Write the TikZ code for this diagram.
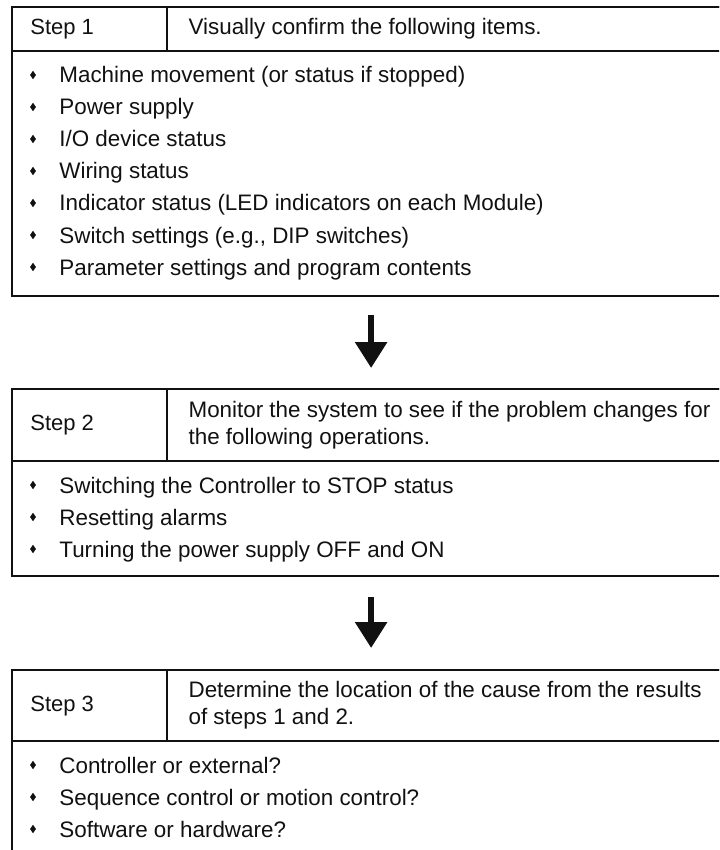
\documentclass[tikz,border=0pt]{standalone}
\usepackage{fontspec}
\setmainfont{Liberation Sans}
\usepackage{tikz}
\usetikzlibrary{shapes.geometric, arrows.meta, positioning}
\definecolor{inkblack}{HTML}{111111}
\tikzstyle{frame} = [rectangle, draw=inkblack, line width=1.1pt, inner sep=0pt, anchor=north west]
\tikzstyle{steplabel} = [anchor=west, inner sep=0pt, text=inkblack, font=\fontsize{11pt}{13.5pt}\selectfont]
\tikzstyle{headtext} = [anchor=west, inner sep=0pt, align=left, text=inkblack, font=\fontsize{11.2pt}{13.5pt}\selectfont]
\tikzstyle{itemtext} = [anchor=base west, inner sep=0pt, text=inkblack, font=\fontsize{11.2pt}{13pt}\selectfont]
\tikzstyle{bullet} = [diamond, fill=inkblack, inner sep=0pt, minimum width=3.1pt, minimum height=4.4pt]
\tikzstyle{bigarrow} = [line width=3pt, draw=inkblack, -{Triangle[length=13pt, width=15.5pt]}]
\begin{document}
\begin{tikzpicture}[x=0.5pt, y=-0.5pt]
    \useasboundingbox (0,0) rectangle (719,850);
    \clip (0,0) rectangle (719,850);

    % Step 1
    \node[frame, minimum width=359pt, minimum height=144.5pt] (box1) at (11,6) {};
    \node[frame, minimum width=359pt, minimum height=22pt] (head1) at (11,6) {};
    \node[frame, minimum width=77.5pt, minimum height=22pt] (cell1) at (11,6) {};
    \node[steplabel, right=9.5pt of cell1.west] (lab1) {Step 1};
    \node[headtext, right=10pt of cell1.east] (desc1) {Visually confirm the following items.};
    \foreach \txt [count=\i] in {Machine movement (or status if stopped), Power supply, I/O device status, Wiring status, Indicator status (LED indicators on each Module), {Switch settings (e.g., DIP switches)}, Parameter settings and program contents} {
        \node[bullet] (bu1-\i) at (33, 43+32*\i) {};
        \node[itemtext] (it1-\i) at (59, 51+32*\i) {\txt};
    }

    % Step 2
    \node[frame, minimum width=359pt, minimum height=93.5pt] (box2) at (11,388) {};
    \node[frame, minimum width=359pt, minimum height=36pt] (head2) at (11,388) {};
    \node[frame, minimum width=77.5pt, minimum height=36pt] (cell2) at (11,388) {};
    \node[steplabel, right=9.5pt of cell2.west] (lab2) {Step 2};
    \node[headtext, right=10pt of cell2.east] (desc2) {Monitor the system to see if the problem changes for\\the following operations.};
    \foreach \txt [count=\i] in {Switching the Controller to STOP status, Resetting alarms, Turning the power supply OFF and ON} {
        \node[bullet] (bu2-\i) at (33, 453+32*\i) {};
        \node[itemtext] (it2-\i) at (59, 461+32*\i) {\txt};
    }

    % Step 3
    \node[frame, minimum width=359pt, minimum height=93pt] (box3) at (11,669) {};
    \node[frame, minimum width=359pt, minimum height=35.5pt] (head3) at (11,669) {};
    \node[frame, minimum width=77.5pt, minimum height=35.5pt] (cell3) at (11,669) {};
    \node[steplabel, right=9.5pt of cell3.west] (lab3) {Step 3};
    \node[headtext, right=10pt of cell3.east] (desc3) {Determine the location of the cause from the results\\of steps 1 and 2.};
    \foreach \txt [count=\i] in {Controller or external?, Sequence control or motion control?, Software or hardware?} {
        \node[bullet] (bu3-\i) at (33, 733+32*\i) {};
        \node[itemtext] (it3-\i) at (59, 741+32*\i) {\txt};
    }

    \draw[bigarrow] ([yshift=-9pt]box1.south) -- ([yshift=10pt]box2.north);
    \draw[bigarrow] ([yshift=-10pt]box2.south) -- ([yshift=10.5pt]box3.north);
\end{tikzpicture}
\end{document}
